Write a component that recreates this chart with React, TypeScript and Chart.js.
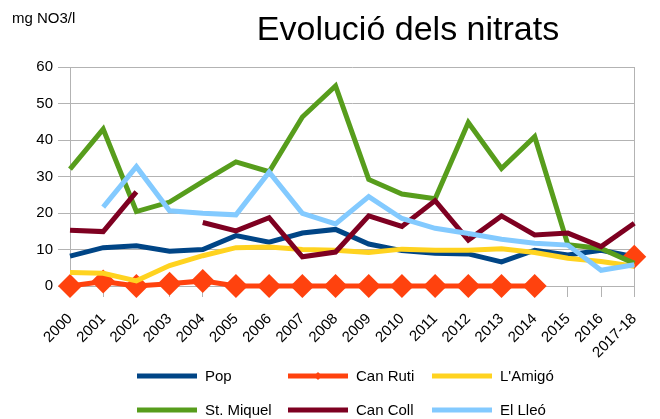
import React, { useEffect, useRef } from "react";
import { Chart, registerables } from "chart.js";

Chart.register(...registerables);

const TITLE = "Evolució dels nitrats";
const UNIT = "mg NO3/l";

const labels = [
  "2000", "2001", "2002", "2003", "2004", "2005", "2006", "2007", "2008",
  "2009", "2010", "2011", "2012", "2013", "2014", "2015", "2016", "2017-18",
];

const pop = [8.2, 10.5, 11, 9.5, 10, 13.8, 12, 14.5, 15.5, 11.5, 9.7, 9, 8.8, 6.6, 9.8, 8.5, 9.8, 8];
const canRuti = [0, 1.2, 0, 0.6, 1.4, 0, 0, 0, 0, 0, 0, 0, 0, 0, 0, null, null, 8];
const lAmigo = [3.7, 3.5, 1.4, 5.6, 8.3, 10.5, 10.7, 10, 9.8, 9.2, 10.1, 9.8, 9.8, 10.2, 9.2, 7.6, 6.7, 5.4];
const stMiquel = [32, 43, 20.4, 23, 28.6, 34, 31.3, 46.3, 54.8, 29.2, 25.2, 23.9, 44.8, 32.2, 40.9, 11.3, 10.3, 6.2];
const canColl = [15.3, 14.9, 25.8, null, 17.4, 15.1, 18.7, 8, 9.3, 19.2, 16.3, 23.4, 12.6, 19.2, 14, 14.5, 10.8, 17.2];
const elLleo = [null, 21.6, 32.7, 20.6, 19.9, 19.5, 31.2, 19.9, 17, 24.5, 18.5, 15.8, 14.4, 12.8, 11.7, 11.2, 4.3, 5.8];

const seriesNames = ["Pop", "Can Ruti", "L'Amigó", "St. Miquel", "Can Coll", "El Lleó"];
const seriesData = [pop, canRuti, lAmigo, stMiquel, canColl, elLleo];
const seriesColors = ["#004586", "#ff420e", "#ffd320", "#579d1c", "#7e0021", "#83caff"];
const markerSeries = 1;

const yTicks = [0, 10, 20, 30, 40, 50, 60];

const GRID = "#b3b3b3";
const FONT = '"Liberation Sans", Arial, sans-serif';

const overlayPlugin = {
  id: "overlay",
  afterDraw(chart: any) {
    const ctx = chart.ctx as CanvasRenderingContext2D;
    ctx.save();
    ctx.fillStyle = "#000";
    ctx.textBaseline = "alphabetic";
    ctx.textAlign = "center";
    ctx.font = `34px ${FONT}`;
    ctx.fillText(TITLE, 408, 40);
    ctx.textAlign = "left";
    ctx.font = `15px ${FONT}`;
    ctx.fillText(UNIT, 12, 23);

    // legend: 3 columns x 2 rows
    const colX = [137, 288, 432];
    const rowY = [376, 410];
    ctx.font = `15px ${FONT}`;
    ctx.textBaseline = "middle";
    seriesNames.forEach((name, i) => {
      const x = colX[i % 3];
      const y = rowY[Math.floor(i / 3)];
      ctx.strokeStyle = seriesColors[i];
      ctx.lineWidth = 5;
      ctx.lineCap = "butt";
      ctx.beginPath();
      ctx.moveTo(x, y);
      ctx.lineTo(x + 60, y);
      ctx.stroke();
      if (i === markerSeries) {
        ctx.fillStyle = seriesColors[i];
        ctx.beginPath();
        const cx = x + 30, r = 4;
        ctx.moveTo(cx, y - r);
        ctx.lineTo(cx + r, y);
        ctx.lineTo(cx, y + r);
        ctx.lineTo(cx - r, y);
        ctx.closePath();
        ctx.fill();
      }
      ctx.fillStyle = "#000";
      ctx.fillText(name, x + 68, y + 1);
    });
    ctx.restore();
  },
};

export default function App() {
  const ref = useRef<HTMLCanvasElement | null>(null);

  useEffect(() => {
    if (!ref.current) return;
    const datasets = seriesNames.map((name, i) => ({
      label: name,
      data: seriesData[i],
      borderColor: seriesColors[i],
      backgroundColor: seriesColors[i],
      borderWidth: 5,
      pointRadius: i === markerSeries ? 12 : 0,
      pointStyle: "rectRot" as const,
      pointBorderWidth: 0,
      pointBackgroundColor: seriesColors[i],
      spanGaps: false,
      tension: 0,
      fill: false,
      clip: false as const,
      order: seriesNames.length - i,
    }));

    const chart = new Chart(ref.current, {
      type: "line",
      data: { labels, datasets },
      options: {
        responsive: false,
        animation: false,
        events: [],
        layout: { padding: { top: 67, left: 0, right: 10, bottom: 0 } },
        plugins: {
          legend: { display: false },
          title: { display: false },
          tooltip: { enabled: false },
        },
        scales: {
          x: {
            type: "category",
            offset: false,
            grid: {
              display: true,
              drawOnChartArea: true,
              color: (c: any) => (c.index === labels.length - 1 ? GRID : "rgba(0,0,0,0)"),
              tickColor: GRID,
              tickLength: 11,
              lineWidth: 1,
            },
            border: { display: true, color: GRID },
            ticks: {
              autoSkip: false,
              minRotation: 45,
              maxRotation: 45,
              padding: 13,
              color: "#000",
              font: { family: FONT, size: 15 },
            },
            afterFit: (s: any) => {
              s.height = 133;
            },
          },
          y: {
            min: 0,
            max: 60,
            afterBuildTicks: (s: any) => {
              s.ticks = yTicks.map((v) => ({ value: v }));
            },
            grid: {
              color: GRID,
              tickColor: GRID,
              tickLength: 12,
              lineWidth: 1,
            },
            border: { display: true, color: GRID },
            ticks: {
              padding: 5,
              color: "#000",
              font: { family: FONT, size: 15 },
            },
            afterFit: (s: any) => {
              s.width = 70;
            },
          },
        },
      },
      plugins: [overlayPlugin],
    });
    return () => chart.destroy();
  }, []);

  return (
    <div style={{ position: "absolute", left: 0, top: 0, width: 660, height: 419, background: "#fff" }}>
      <canvas ref={ref} width={660} height={419} style={{ display: "block" }} />
    </div>
  );
}
